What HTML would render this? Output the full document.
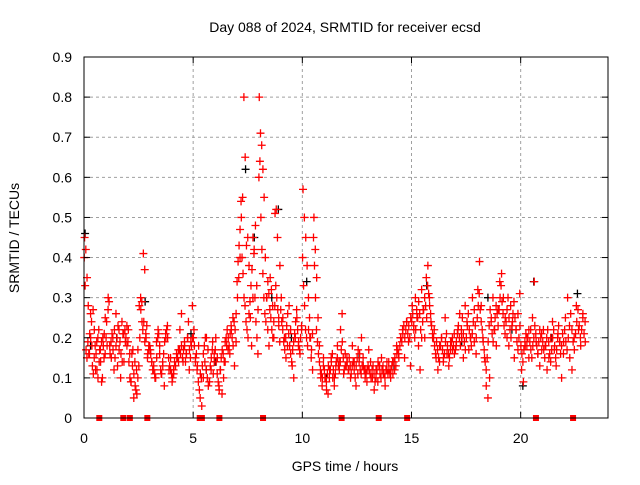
<!DOCTYPE html>
<html><head><meta charset="utf-8"><style>
html,body{margin:0;padding:0;background:#fff;}
svg text{font-family:"Liberation Sans",sans-serif;font-size:14px;fill:#000;}
</style></head><body>
<svg id="chart" width="640" height="480" xmlns="http://www.w3.org/2000/svg">
<rect width="640" height="480" fill="#fff"/>
<g id="grid"></g>
<g id="marks"></g>
<rect x="84" y="57" width="524" height="361" fill="none" stroke="#000" stroke-width="1"/>
<g id="ticks"></g>
<text x="345" y="32" text-anchor="middle">Day 088 of 2024, SRMTID for receiver ecsd</text>
<text x="345" y="471" text-anchor="middle">GPS time / hours</text>
<text transform="translate(19,238) rotate(-90)" text-anchor="middle">SRMTID / TECUs</text>
</svg>
<script>
const xTicks=[0,5,10,15,20];
const yTicks=[0,0.1,0.2,0.3,0.4,0.5,0.6,0.7,0.8,0.9];
const yTickLabels=["0","0.1","0.2","0.3","0.4","0.5","0.6","0.7","0.8","0.9"];
const hourBins=[0,1,2,3,4,5,6,7,8,9,10,11,12,13,14,15,16,17,18,19,20,21,22];
const redValues=[
[0.45,0.42,0.35,0.28,0.16,0.2,0.18,0.27,0.22,0.12,0.19,0.1,0.14,0.17,0.09,0.2,0.15,0.25],
[0.24,0.3,0.18,0.15,0.2,0.22,0.26,0.13,0.17,0.1,0.14,0.21,0.19,0.23],
[0.22,0.16,0.09,0.13,0.05,0.08,0.12,0.17,0.28,0.3,0.24,0.41,0.37,0.2,0.15,0.18],
[0.17,0.14,0.12,0.1,0.19,0.22,0.16,0.11,0.13,0.08,0.2,0.23,0.12,0.15],
[0.09,0.11,0.13,0.15,0.17,0.22,0.26,0.14,0.18,0.16,0.2,0.12,0.19,0.28],
[0.22,0.15,0.12,0.18,0.05,0.03,0.1,0.14,0.2,0.17,0.09,0.12,0.19,0.16],
[0.2,0.15,0.08,0.12,0.06,0.1,0.14,0.18,0.2,0.16,0.22,0.25,0.13,0.19],
[0.3,0.35,0.4,0.5,0.55,0.8,0.65,0.43,0.45,0.38,0.25,0.18,0.3,0.42,0.48,0.33,0.27],
[0.8,0.71,0.68,0.62,0.55,0.4,0.3,0.22,0.18,0.35,0.32,0.28,0.2,0.51,0.52,0.45,0.25,0.38],
[0.3,0.25,0.2,0.15,0.18,0.28,0.22,0.13,0.1,0.2,0.25,0.18,0.16,0.23],
[0.57,0.5,0.45,0.38,0.3,0.2,0.15,0.12,0.5,0.42,0.35,0.25,0.18,0.1,0.08,0.15],
[0.1,0.07,0.06,0.12,0.15,0.1,0.08,0.13,0.18,0.14,0.22,0.26,0.11,0.16],
[0.15,0.12,0.1,0.18,0.14,0.08,0.11,0.16,0.2,0.13,0.12,0.09],
[0.17,0.14,0.1,0.07,0.12,0.09,0.13,0.15,0.11,0.08,0.12,0.14],
[0.1,0.14,0.12,0.18,0.16,0.2,0.22,0.15,0.24,0.19,0.13],
[0.28,0.22,0.3,0.25,0.18,0.12,0.32,0.27,0.2,0.35,0.38,0.3,0.24,0.21],
[0.22,0.15,0.12,0.18,0.2,0.14,0.25,0.16,0.13,0.19,0.17,0.21],
[0.18,0.22,0.26,0.2,0.15,0.28,0.24,0.17,0.2,0.3,0.19,0.16],
[0.32,0.39,0.28,0.2,0.15,0.08,0.05,0.1,0.25,0.3,0.22,0.18,0.27],
[0.34,0.36,0.3,0.25,0.2,0.18,0.28,0.24,0.15,0.22,0.26,0.31],
[0.12,0.09,0.18,0.2,0.15,0.22,0.25,0.34,0.19,0.16,0.13,0.21],
[0.22,0.18,0.12,0.15,0.2,0.24,0.17,0.13,0.21,0.19,0.1,0.16],
[0.25,0.3,0.15,0.12,0.2,0.28,0.22,0.18,0.26,0.24]
];
const redValuesB=[
[0.4,0.33,0.17,0.15,0.19,0.16,0.21,0.26,0.24,0.13,0.11,0.15,0.18,0.16,0.12,0.2,0.22,0.17,0.14,0.19,0.1,0.18,0.21,0.16],
[0.2,0.18,0.27,0.29,0.16,0.19,0.21,0.17,0.12,0.15,0.18,0.2,0.23,0.22,0.19,0.16,0.24,0.21,0.14,0.22,0.2,0.18],
[0.19,0.14,0.1,0.09,0.16,0.17,0.11,0.14,0.07,0.06,0.1,0.13,0.2,0.27,0.29,0.22,0.24,0.19,0.21,0.23,0.16,0.17],
[0.18,0.16,0.14,0.12,0.13,0.11,0.1,0.15,0.2,0.21,0.18,0.12,0.11,0.14,0.16,0.19,0.21,0.22,0.2,0.15,0.13,0.12],
[0.11,0.1,0.12,0.14,0.13,0.16,0.15,0.14,0.17,0.16,0.18,0.15,0.17,0.19,0.14,0.16,0.2,0.24,0.17,0.15,0.18,0.2],
[0.2,0.18,0.14,0.16,0.13,0.09,0.07,0.11,0.1,0.13,0.16,0.18,0.2,0.12,0.1,0.08,0.09,0.13,0.15,0.17,0.11,0.14],
[0.17,0.14,0.11,0.09,0.07,0.12,0.15,0.17,0.16,0.14,0.19,0.2,0.22,0.17,0.18,0.21,0.23,0.2,0.18,0.24,0.22,0.26],
[0.34,0.39,0.43,0.47,0.54,0.4,0.36,0.3,0.28,0.24,0.22,0.2,0.26,0.29,0.33,0.37,0.45,0.41,0.3,0.24,0.2,0.16],
[0.6,0.64,0.5,0.42,0.36,0.3,0.26,0.24,0.3,0.34,0.31,0.27,0.25,0.22,0.2,0.24,0.28,0.33,0.3,0.27,0.23,0.19],
[0.27,0.24,0.22,0.19,0.17,0.2,0.23,0.26,0.21,0.18,0.16,0.14,0.17,0.19,0.21,0.24,0.27,0.22,0.19,0.17,0.2,0.22],
[0.4,0.33,0.28,0.22,0.2,0.18,0.22,0.25,0.2,0.17,0.21,0.45,0.38,0.3,0.22,0.19,0.16,0.14,0.12,0.11,0.1,0.13],
[0.12,0.1,0.09,0.11,0.13,0.1,0.12,0.14,0.16,0.12,0.1,0.11,0.14,0.15,0.13,0.12,0.14,0.17,0.19,0.15,0.12,0.13],
[0.13,0.14,0.12,0.15,0.13,0.11,0.13,0.14,0.12,0.1,0.13,0.15,0.17,0.14,0.12,0.11,0.13,0.15,0.12,0.1,0.11,0.12],
[0.13,0.12,0.11,0.1,0.12,0.13,0.11,0.09,0.1,0.12,0.14,0.13,0.11,0.1,0.12,0.13,0.11,0.1,0.12,0.14,0.11,0.12],
[0.11,0.12,0.13,0.11,0.14,0.15,0.13,0.16,0.17,0.15,0.18,0.2,0.19,0.21,0.23,0.2,0.22,0.24,0.21,0.23,0.2,0.25],
[0.24,0.26,0.23,0.2,0.22,0.27,0.25,0.29,0.26,0.22,0.2,0.24,0.27,0.3,0.28,0.25,0.33,0.31,0.28,0.26,0.23,0.2],
[0.2,0.18,0.16,0.19,0.17,0.15,0.14,0.18,0.2,0.17,0.15,0.16,0.19,0.21,0.18,0.16,0.15,0.17,0.19,0.2,0.18,0.16],
[0.17,0.19,0.21,0.23,0.2,0.18,0.22,0.25,0.21,0.19,0.17,0.2,0.23,0.26,0.22,0.2,0.18,0.21,0.24,0.27,0.23,0.2],
[0.25,0.28,0.31,0.27,0.24,0.22,0.19,0.17,0.14,0.12,0.15,0.19,0.23,0.27,0.24,0.21,0.19,0.22,0.25,0.28,0.26,0.23],
[0.27,0.3,0.33,0.29,0.26,0.23,0.21,0.24,0.27,0.3,0.25,0.22,0.2,0.23,0.26,0.29,0.25,0.22,0.19,0.17,0.2,0.23],
[0.18,0.16,0.14,0.17,0.19,0.21,0.18,0.2,0.22,0.19,0.17,0.15,0.18,0.2,0.23,0.21,0.18,0.16,0.19,0.22,0.2,0.17],
[0.19,0.17,0.15,0.18,0.2,0.22,0.19,0.16,0.14,0.17,0.2,0.22,0.18,0.15,0.17,0.2,0.23,0.19,0.16,0.18,0.21,0.19],
[0.22,0.19,0.17,0.2,0.23,0.26,0.22,0.19,0.17,0.21,0.24,0.27,0.23,0.2,0.22,0.25,0.21,0.19]
];
const blackHours=[0.05,0.3,1.5,2.8,4.9,5.6,6.0,7.4,7.8,8.6,8.9,9.5,10.2,11.1,12.6,14.2,15.7,17.3,18.5,19.6,20.1,20.6,21.4,22.6];
const blackValues=[0.46,0.18,0.2,0.29,0.21,0.12,0.14,0.62,0.45,0.3,0.52,0.2,0.34,0.1,0.15,0.13,0.33,0.19,0.3,0.22,0.08,0.34,0.2,0.31];
const zeroHours=[0.7,1.8,2.1,2.9,5.3,5.4,6.2,8.2,11.8,13.5,14.8,20.7,22.4];
const NS='http://www.w3.org/2000/svg';
const X=h=>84+h*(524/24);
const Y=v=>418-v*(361/0.9);
const grid=document.getElementById('grid'),ticks=document.getElementById('ticks'),marks=document.getElementById('marks');
function mk(tag,at,parent){const e=document.createElementNS(NS,tag);for(const k in at)e.setAttribute(k,at[k]);parent.appendChild(e);return e;}
xTicks.forEach(t=>{
  if(t>0){const g=mk('line',{x1:X(t),x2:X(t),y1:57,y2:418,stroke:'#a0a0a0','stroke-dasharray':'3,3'},grid);
  
  }
  const a=mk('line',{x1:X(t),x2:X(t),y1:418,y2:412,stroke:'#000'},ticks);
  
  
  const b=mk('line',{x1:X(t),x2:X(t),y1:57,y2:63,stroke:'#000'},ticks);
  
  
  const l=mk('text',{x:X(t),y:443,'text-anchor':'middle'},ticks);l.textContent=String(t);
  
  
});
yTicks.forEach((t,i)=>{
  if(t>0&&t<0.9){const g=mk('line',{x1:84,x2:608,y1:Y(t),y2:Y(t),stroke:'#a0a0a0','stroke-dasharray':'3,3'},grid);
  
  }
  const a=mk('line',{x1:84,x2:90,y1:Y(t),y2:Y(t),stroke:'#000'},ticks);
  
  
  const b=mk('line',{x1:602,x2:608,y1:Y(t),y2:Y(t),stroke:'#000'},ticks);
  
  
  const l=mk('text',{x:72,y:Y(t)+5,'text-anchor':'end'},ticks);l.textContent=yTickLabels[i];
  
  
});
function cross(x,y,c,name){
  const p=mk('path',{d:`M${x-4},${y}H${x+4}M${x},${y-4}V${y+4}`,stroke:c,'stroke-width':1.3,fill:'none'},marks);
  
  
}
blackHours.forEach((h,i)=>cross(X(h),Y(blackValues[i]),'#000','black-point'));
hourBins.forEach((h,b)=>{const vs=redValues[b];vs.forEach((v,i)=>cross(X(h+(i+0.5)/vs.length),Y(v),'#ff0000','red-point'));});
hourBins.forEach((h,b)=>{const vs=redValuesB[b];vs.forEach((v,i)=>cross(X(h+(i+0.25)/vs.length),Y(v),'#ff0000','red-point'));});
zeroHours.forEach(h=>{
  const r=mk('rect',{x:X(h)-3,y:415,width:6,height:6,fill:'#ff0000'},marks);
  
  
});
</script>
</body></html>
